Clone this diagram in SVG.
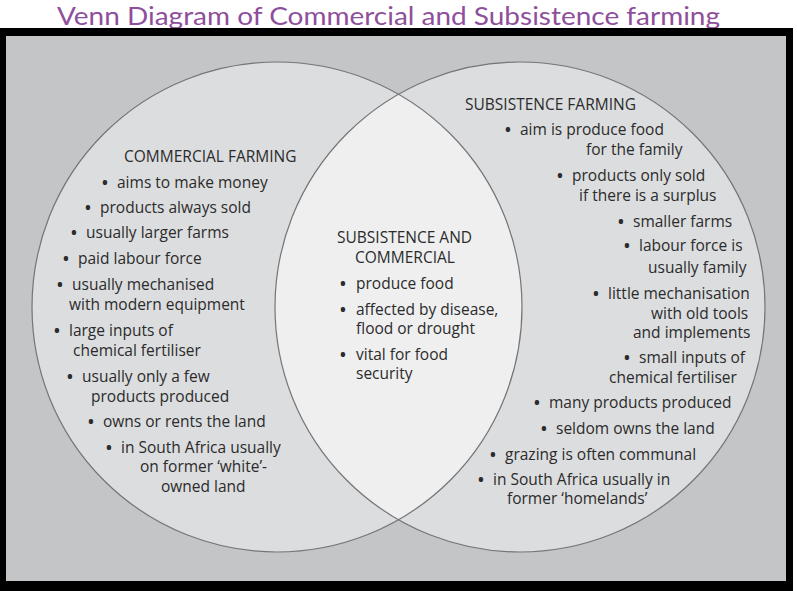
<svg xmlns="http://www.w3.org/2000/svg" width="797" height="591" viewBox="0 0 797 591">
  <style>
    .t { font-family: "Open Sans", "Noto Sans", sans-serif; font-size: 15.5px; fill: #2b2b2b; }
    .b { font-weight: bold; text-anchor: middle; }
    .title { font-family: "Lato", "Open Sans", sans-serif; font-size: 25px; fill: #8e4f9b; }
    .circle { fill: #dcdddf; }
    .outline { fill: none; stroke: #747577; stroke-width: 1.2; }
  </style>
  <defs>
    <clipPath id="clipLeft">
      <circle cx="277" cy="307" r="245"/>
    </clipPath>
  </defs>
  <rect x="0" y="0" width="797" height="591" fill="#ffffff"/>
  <text class="title" x="57" y="25" textLength="663" lengthAdjust="spacingAndGlyphs">Venn Diagram of Commercial and Subsistence farming</text>
  <g id="frame">
    <rect x="0" y="28" width="793" height="563" fill="#000000"/>
    <rect x="6" y="36" width="780" height="545" fill="#c4c5c7"/>
  </g>
  <g id="commercial-circle">
    <circle class="circle" cx="277" cy="307" r="245"/>
  </g>
  <g id="subsistence-circle">
    <circle class="circle" cx="520" cy="307" r="245"/>
  </g>
  <g id="overlap">
    <circle cx="520" cy="307" r="245" fill="#efeff0" clip-path="url(#clipLeft)"/>
  </g>
  <g id="outlines">
    <circle class="outline" cx="277" cy="307" r="245"/>
    <circle class="outline" cx="520" cy="307" r="245"/>
  </g>
  <g id="commercial-text">
    <text class="t" x="124" y="162">COMMERCIAL FARMING</text>
    <text class="t" y="188"><tspan class="b" x="105">•</tspan><tspan x="117">aims to make money</tspan></text>
    <text class="t" y="213"><tspan class="b" x="88">•</tspan><tspan x="100">products always sold</tspan></text>
    <text class="t" y="238"><tspan class="b" x="74">•</tspan><tspan x="86">usually larger farms</tspan></text>
    <text class="t" y="264"><tspan class="b" x="66">•</tspan><tspan x="78">paid labour force</tspan></text>
    <text class="t" y="290"><tspan class="b" x="60">•</tspan><tspan x="72">usually mechanised</tspan></text>
    <text class="t" x="69" y="310">with modern equipment</text>
    <text class="t" y="336"><tspan class="b" x="57">•</tspan><tspan x="69">large inputs of</tspan></text>
    <text class="t" x="73" y="356">chemical fertiliser</text>
    <text class="t" y="382"><tspan class="b" x="70">•</tspan><tspan x="82">usually only a few</tspan></text>
    <text class="t" x="91" y="402">products produced</text>
    <text class="t" y="427"><tspan class="b" x="91">•</tspan><tspan x="103">owns or rents the land</tspan></text>
    <text class="t" y="453"><tspan class="b" x="109">•</tspan><tspan x="121">in South Africa usually</tspan></text>
    <text class="t" x="140" y="472">on former ‘white’-</text>
    <text class="t" x="161" y="492">owned land</text>
  </g>
  <g id="shared-text">
    <text class="t" x="337" y="243">SUBSISTENCE AND</text>
    <text class="t" x="355" y="263">COMMERCIAL</text>
    <text class="t" y="289"><tspan class="b" x="343">•</tspan><tspan x="356">produce food</tspan></text>
    <text class="t" y="315"><tspan class="b" x="343">•</tspan><tspan x="356">affected by disease,</tspan></text>
    <text class="t" x="356" y="334">flood or drought</text>
    <text class="t" y="360"><tspan class="b" x="343">•</tspan><tspan x="356">vital for food</tspan></text>
    <text class="t" x="356" y="379">security</text>
  </g>
  <g id="subsistence-text">
    <text class="t" x="465" y="110">SUBSISTENCE FARMING</text>
    <text class="t" y="135"><tspan class="b" x="508">•</tspan><tspan x="520">aim is produce food</tspan></text>
    <text class="t" x="586" y="155">for the family</text>
    <text class="t" y="181"><tspan class="b" x="560">•</tspan><tspan x="572">products only sold</tspan></text>
    <text class="t" x="579" y="201">if there is a surplus</text>
    <text class="t" y="227"><tspan class="b" x="621">•</tspan><tspan x="633">smaller farms</tspan></text>
    <text class="t" y="251"><tspan class="b" x="627">•</tspan><tspan x="639">labour force is</tspan></text>
    <text class="t" x="648" y="273">usually family</text>
    <text class="t" y="299"><tspan class="b" x="596">•</tspan><tspan x="608">little mechanisation</tspan></text>
    <text class="t" x="651" y="319">with old tools</text>
    <text class="t" x="633" y="338">and implements</text>
    <text class="t" y="363"><tspan class="b" x="627">•</tspan><tspan x="639">small inputs of</tspan></text>
    <text class="t" x="609" y="383">chemical fertiliser</text>
    <text class="t" y="408"><tspan class="b" x="537">•</tspan><tspan x="549">many products produced</tspan></text>
    <text class="t" y="434"><tspan class="b" x="544">•</tspan><tspan x="556">seldom owns the land</tspan></text>
    <text class="t" y="460"><tspan class="b" x="493">•</tspan><tspan x="505">grazing is often communal</tspan></text>
    <text class="t" y="485"><tspan class="b" x="481">•</tspan><tspan x="493">in South Africa usually in</tspan></text>
    <text class="t" x="507" y="504">former ‘homelands’</text>
  </g>
</svg>
